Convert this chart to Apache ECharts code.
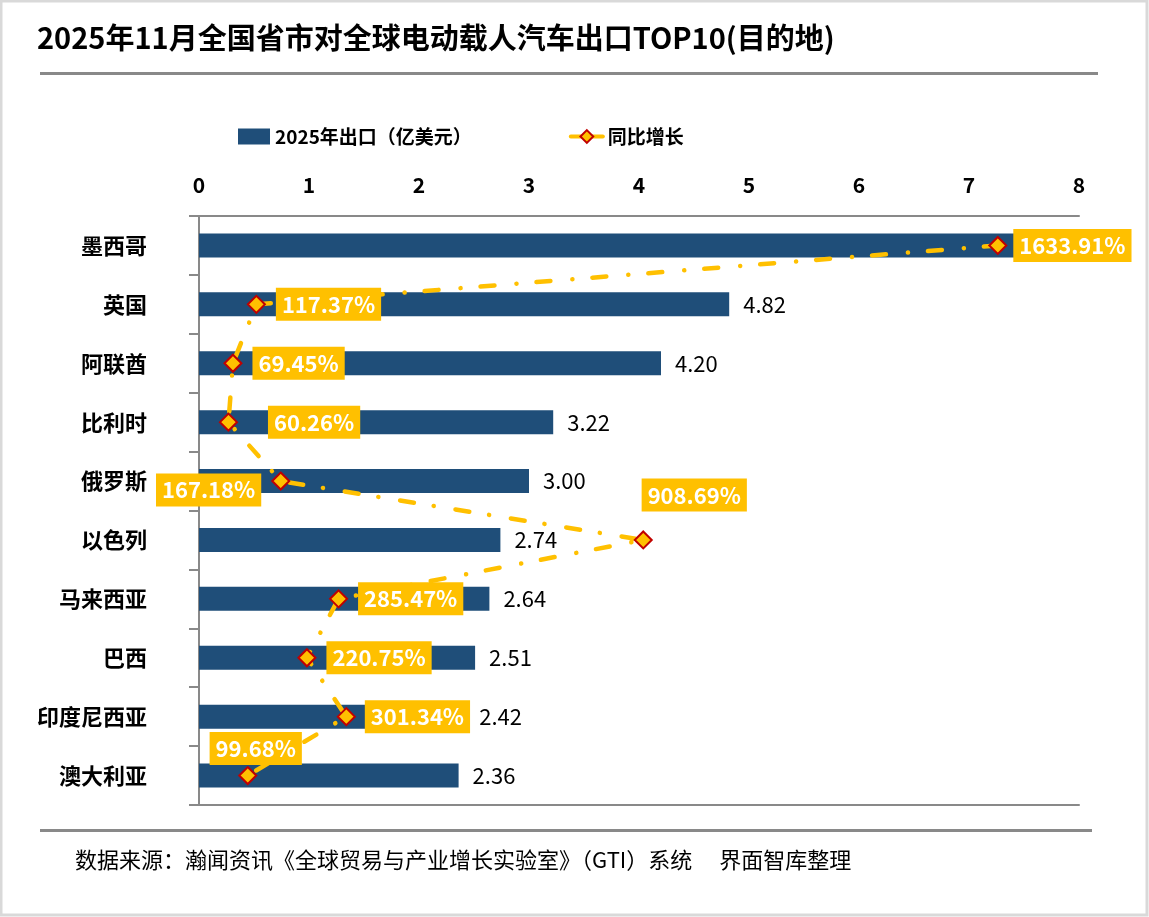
<!DOCTYPE html>
<html>
<head>
<meta charset="utf-8">
<script src="https://cdn.jsdelivr.net/npm/echarts@6/dist/echarts.min.js"></script>
<style>
html,body{margin:0;padding:0;background:#fff;}
#c{width:1149px;height:917px;}
</style>
</head>
<body>
<div id="c"></div>
<script>
var categories = ['墨西哥','英国','阿联酋','比利时','俄罗斯','以色列','马来西亚','巴西','印度尼西亚','澳大利亚'];
var exportValues = [7.5, 4.82, 4.20, 3.22, 3.00, 2.74, 2.64, 2.51, 2.42, 2.36];
var growthValues = [1633.91, 117.37, 69.45, 60.26, 167.18, 908.69, 285.47, 220.75, 301.34, 99.68];
var xTicks = ['0','1','2','3','4','5','6','7','8'];
var titleText = '2025年11月全国省市对全球电动载人汽车出口TOP10(目的地)';
var sourceText = '数据来源：瀚闻资讯《全球贸易与产业增长实验室》（GTI）系统　 界面智库整理';
var legendBar = '2025年出口（亿美元）';
var legendLine = '同比增长';

var FONT = '"Noto Sans CJK SC", "Noto Sans", sans-serif';
var YEL = '#FFC000';
var BLUE = '#1F4E79';
var GRAY = '#898989';

var labelOverrides = {
  0: {distance: 6},
  3: {distance: 30},
  4: {position: 'left', distance: 10, offset: [0, 9]},
  5: {position: 'top', distance: 19, offset: [51, 0]},
  8: {distance: 9},
  9: {position: 'top', distance: 1, offset: [8, 0]}
};

var lineData = growthValues.map(function (v, i) {
  var item = {value: v};
  if (labelOverrides[i]) item.label = labelOverrides[i];
  return item;
});
var barData = exportValues.map(function (v, i) {
  var item = {value: v};
  if (i === 0) item.label = {show: false};
  return item;
});

var chart = echarts.init(document.getElementById('c'));
chart.setOption({
  backgroundColor: '#fff',
  animation: false,
  textStyle: {fontFamily: FONT},
  legend: {
    left: 233, top: 122,
    itemWidth: 32, itemHeight: 16, itemGap: 97,
    textStyle: {fontSize: 19, fontWeight: 'bold', color: '#000', fontFamily: FONT},
    data: [
      {name: legendBar, icon: 'rect'},
      {name: legendLine, itemStyle: {borderWidth: 2}, lineStyle: {width: 4, type: 'solid', color: YEL}}
    ]
  },
  grid: {left: 199, right: 70, top: 216, bottom: 112, containLabel: false},
  xAxis: [
    {
      type: 'value', position: 'top', min: 0, max: 8, interval: 1,
      axisLine: {show: true, lineStyle: {color: GRAY, width: 2}},
      axisTick: {show: false},
      splitLine: {show: false},
      axisLabel: {
        margin: 20, fontSize: 21, fontWeight: 'bold', color: '#000', fontFamily: FONT,
        formatter: function (v) { return xTicks[Math.round(v)]; }
      }
    },
    {
      type: 'value', position: 'bottom', min: 0, max: 1800,
      axisLine: {show: true, onZero: false, lineStyle: {color: GRAY, width: 2}},
      axisTick: {show: false},
      axisLabel: {show: false},
      splitLine: {show: false}
    }
  ],
  yAxis: {
    type: 'category', inverse: true, data: categories,
    axisLine: {show: true, lineStyle: {color: GRAY, width: 2}},
    axisTick: {show: true, length: 10, lineStyle: {color: GRAY, width: 2}},
    axisLabel: {margin: 52, fontSize: 22, fontWeight: 'bold', color: '#000', fontFamily: FONT}
  },
  series: [
    {
      name: legendBar, type: 'bar', xAxisIndex: 0, data: barData,
      barWidth: 24,
      itemStyle: {color: BLUE},
      label: {
        show: true, position: 'right', distance: 14,
        fontSize: 22, color: '#000', fontFamily: FONT,
        formatter: function (p) { return p.value.toFixed(2); }
      },
      z: 2
    },
    {
      name: legendLine, type: 'line', xAxisIndex: 1, data: lineData,
      symbol: 'diamond', symbolSize: 17,
      itemStyle: {color: YEL, borderColor: '#C00000', borderWidth: 2},
      lineStyle: {color: YEL, width: 4.5, type: [14, 20, 0.1, 22], cap: 'round'},
      label: {
        show: true, position: 'right', distance: 10,
        backgroundColor: YEL, color: '#fff', fontWeight: 'bold', fontSize: 22,
        fontFamily: FONT, padding: [6, 6, 5, 6],
        formatter: function (p) { return p.value.toFixed(2) + '%'; }
      },
      z: 5
    }
  ],
  graphic: [
    {type: 'rect', shape: {x: 1, y: 1, width: 1146, height: 914}, style: {fill: 'none', stroke: '#d9d9d9', lineWidth: 3}, silent: true},
    {type: 'text', left: 37, top: 23, style: {text: titleText, fontSize: 29, fontWeight: 'bold', fill: '#000', fontFamily: FONT}},
    {type: 'rect', shape: {x: 40, y: 72, width: 1058, height: 3}, style: {fill: GRAY}},
    {type: 'rect', shape: {x: 40, y: 829, width: 1052, height: 3}, style: {fill: GRAY}},
    {type: 'text', left: 75, top: 849, style: {text: sourceText, fontSize: 22, fill: '#000', fontFamily: FONT}}
  ]
});
</script>
</body>
</html>
